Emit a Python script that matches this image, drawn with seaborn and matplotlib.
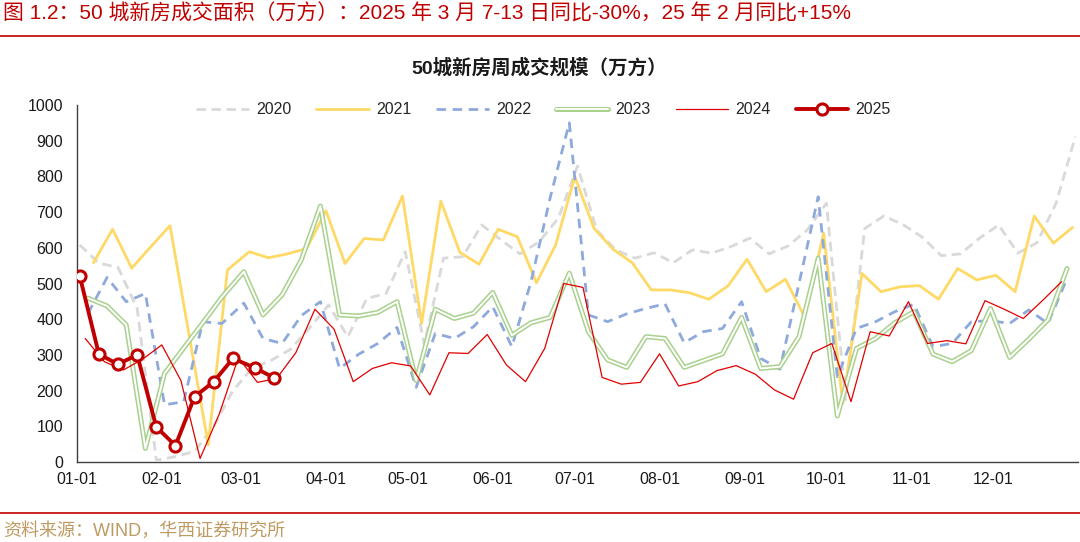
import numpy as np
import pandas as pd
import matplotlib
matplotlib.use("Agg")
import matplotlib.pyplot as plt
import matplotlib.dates as mdates
from matplotlib.lines import Line2D
import seaborn as sns

# ---------------- data ----------------
years = ["2020", "2021", "2022", "2023", "2024", "2025"]
first_week = {"2020": "2020-01-02", "2021": "2021-01-07", "2022": "2022-01-05",
              "2023": "2023-01-05", "2024": "2024-01-04", "2025": "2025-01-02"}

v2020 = [608, 557, 545, 430, 5, 15, 30, 100, 200, 262, 285, 315, 375, 440, 351,
         458, 472, 589, 330, 571, 575, 664, 622, 583, 617, 683, 829, 650, 594,
         571, 586, 558, 594, 585, 603, 627, 583, 605, 650, 725, 174, 654, 689,
         665, 630, 578, 583, 627, 664, 585, 614, 725, 911]
v2021 = [558, 652, 543, 603, 662, 355, 48, 538, 589, 572, 583, 598, 704, 556,
         626, 622, 745, 388, 731, 587, 554, 652, 631, 502, 608, 799, 655, 596,
         558, 482, 482, 474, 456, 493, 568, 477, 512, 407, 641, 164, 528, 477,
         491, 494, 456, 542, 510, 523, 477, 689, 613, 657]
v2022 = [416, 517, 449, 472, 160, 169, 393, 388, 445, 346, 332, 410, 449, 262,
         302, 332, 377, 209, 360, 346, 379, 435, 323, 505, 740, 950, 412, 393,
         415, 430, 443, 334, 365, 374, 449, 290, 260, 500, 743, 239, 374, 393,
         421, 442, 323, 332, 393, 396, 388, 426, 388, 514]
v2023 = [459, 437, 384, 38, 248, 319, 390, 462, 533, 412, 468, 566, 717, 412,
         409, 419, 449, 228, 428, 402, 417, 475, 355, 390, 405, 529, 365, 286,
         265, 351, 346, 265, 284, 303, 405, 262, 267, 351, 571, 129, 318, 346,
         390, 421, 302, 281, 312, 430, 293, 344, 398, 542]
v2024 = [346, 281, 258, 288, 328, 228, 10, 134, 292, 223, 234, 306, 428, 372,
         225, 262, 278, 269, 188, 306, 304, 357, 272, 225, 318, 500, 489, 237,
         218, 223, 303, 213, 225, 256, 270, 246, 202, 176, 306, 332, 169, 365,
         353, 449, 332, 340, 331, 452, 428, 402, 452, 505]
v2025 = [521, 302, 274, 300, 98, 46, 183, 225, 290, 264, 236]

month_labels = ["01-01", "02-01", "03-01", "04-01", "05-01", "06-01",
                "07-01", "08-01", "09-01", "10-01", "11-01", "12-01"]
y_ticks = [0, 100, 200, 300, 400, 500, 600, 700, 800, 900, 1000]

series = {"2020": v2020, "2021": v2021, "2022": v2022,
          "2023": v2023, "2024": v2024, "2025": v2025}

frames = []
for yr in years:
    dates = pd.date_range(first_week[yr], periods=len(series[yr]), freq="7D")
    axis_dates = [d.replace(year=2024) for d in dates]   # common calendar axis
    frames.append(pd.DataFrame({"date": axis_dates, "value": series[yr], "year": yr}))
df = pd.concat(frames, ignore_index=True)

# ---------------- style ----------------
sns.set_theme(style="white")
plt.rcParams["font.family"] = ["Liberation Sans", "Noto Sans CJK SC"]
plt.rcParams["axes.unicode_minus"] = False

RED_T = "#C00000"
styles = {
    "2020": dict(color="#D9D9D9", lw=2.0, dashes=(3.4, 2.0)),
    "2021": dict(color="#FFD966", lw=2.0, dashes=None),
    "2022": dict(color="#8EA9DB", lw=2.0, dashes=(3.4, 2.4)),
    "2023": dict(color="#A9D18E", lw=3.6, dashes=None),
    "2024": dict(color="#E00000", lw=0.9, dashes=None),
    "2025": dict(color="#C00000", lw=2.8, dashes=None),
}

fig = plt.figure(figsize=(10.8, 5.42), dpi=100, facecolor="white")
ax = fig.add_axes([77 / 1080, 1 - 462 / 542, (1078 - 77) / 1080, (462 - 105) / 542])
ax.set_facecolor("white")

handles = []
for i, yr in enumerate(years):
    st = styles[yr]
    d = df[df["year"] == yr]
    if yr == "2025":
        sns.lineplot(data=d, x="date", y="value", ax=ax, color=st["color"],
                     linewidth=st["lw"], marker="o", markersize=8,
                     markerfacecolor="white", markeredgecolor=st["color"],
                     markeredgewidth=2.2, errorbar=None, estimator=None,
                     sort=False, legend=False, zorder=10)
        handles.append(Line2D([], [], color=st["color"], lw=st["lw"], marker="o",
                              markersize=8, markerfacecolor="white",
                              markeredgecolor=st["color"], markeredgewidth=2.2))
    elif yr == "2023":
        sns.lineplot(data=d, x="date", y="value", ax=ax, color=st["color"],
                     linewidth=st["lw"], errorbar=None, estimator=None,
                     sort=False, legend=False, zorder=3 + i)
        sns.lineplot(data=d, x="date", y="value", ax=ax, color="white",
                     linewidth=1.4, errorbar=None, estimator=None,
                     sort=False, legend=False, zorder=3 + i)
        h1 = Line2D([], [], color=st["color"], lw=st["lw"])
        h2 = Line2D([], [], color="white", lw=1.4)
        handles.append((h1, h2))
    else:
        sns.lineplot(data=d, x="date", y="value", ax=ax, color=st["color"],
                     linewidth=st["lw"], errorbar=None, estimator=None,
                     sort=False, legend=False, zorder=3 + i)
        line = ax.lines[-1]
        h = Line2D([], [], color=st["color"], lw=st["lw"])
        if st["dashes"]:
            line.set_dashes(st["dashes"])
            h.set_dashes(st["dashes"])
        handles.append(h)

# axes formatting
ax.set_xlim(pd.Timestamp("2024-01-01"), pd.Timestamp("2025-01-01"))
ax.set_ylim(0, 1000)
ax.set_xticks([mdates.date2num(pd.Timestamp("2024-" + m)) for m in month_labels])
ax.set_xticklabels(month_labels)
ax.set_xticks([mdates.date2num(pd.Timestamp("2025-01-01"))], minor=True)
ax.set_yticks(y_ticks)
ax.set_yticklabels([str(v) for v in y_ticks])
ax.set_xlabel("")
ax.set_ylabel("")
for s in ["top", "right"]:
    ax.spines[s].set_visible(False)
for s in ["left", "bottom"]:
    ax.spines[s].set_color("#404040")
    ax.spines[s].set_linewidth(1.0)
ax.tick_params(axis="both", which="both", direction="in", length=5, width=1,
               color="#404040", labelsize=11.5, labelcolor="#1a1a1a")
ax.tick_params(axis="y", pad=10)
ax.tick_params(axis="x", pad=7)
ax.grid(False)

# legend
fig.legend(handles, years, loc="center", bbox_to_anchor=(543.5 / 1080, 1 - 110 / 542),
           ncol=6, frameon=False, fontsize=11.5, handlelength=3.3,
           handletextpad=0.45, columnspacing=1.55)

# titles and decorations
fig.text(3 / 1080, 1 - 14 / 542,
         "图 1.2：50 城新房成交面积（万方）：2025 年 3 月 7-13 日同比-30%，25 年 2 月同比+15%",
         ha="left", va="center", color=RED_T, fontsize=15)
fig.add_artist(Line2D([0, 1], [1 - 36 / 542] * 2, transform=fig.transFigure,
                      color=RED_T, lw=1.2))
fig.text(0.4995, 1 - 68 / 542, "50城新房周成交规模（万方）", ha="center", va="center",
         fontsize=14, fontweight="bold", color="#1a1a1a")
fig.add_artist(Line2D([0, 1], [1 - 513 / 542] * 2, transform=fig.transFigure,
                      color=RED_T, lw=1.2))
fig.text(3 / 1080, 1 - 531 / 542, "资料来源：WIND，华西证券研究所", ha="left",
         va="center", color="#BF9A62", fontsize=13)

fig.savefig("out.png", dpi=100, facecolor="white")
